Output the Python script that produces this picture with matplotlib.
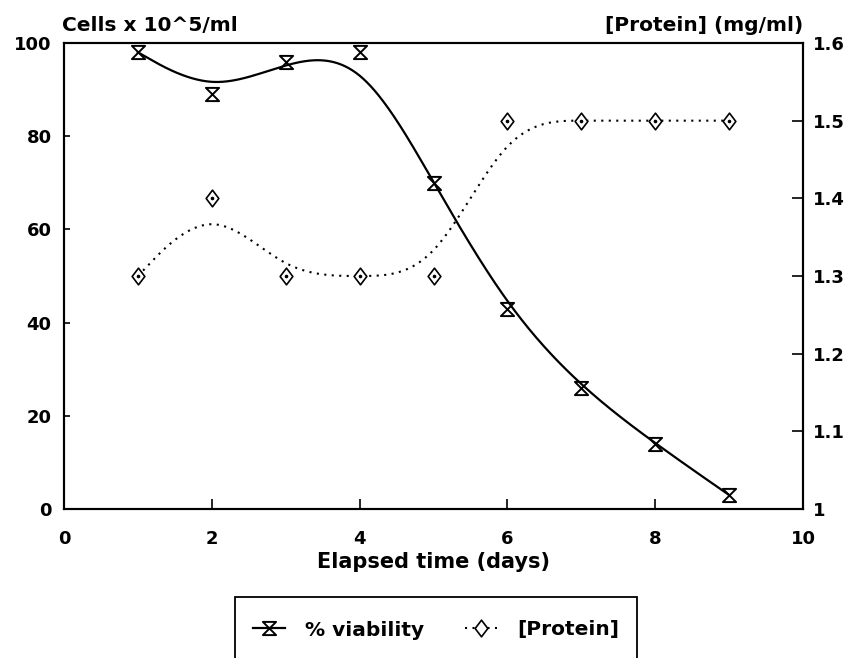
import numpy as np
import matplotlib
matplotlib.use("Agg")
import matplotlib.pyplot as plt
from matplotlib.path import Path
from matplotlib.lines import Line2D
from matplotlib.patches import Rectangle

# === Daten ===
days = [1, 2, 3, 4, 5, 6, 7, 8, 9]
viability = [98, 89, 96, 98, 70, 43, 26, 14, 3]
protein = [1.3, 1.4, 1.3, 1.3, 1.3, 1.5, 1.5, 1.5, 1.5]

x_ticks = [0, 2, 4, 6, 8, 10]
left_ticks = [0, 20, 40, 60, 80, 100]
right_ticks = [1.0, 1.1, 1.2, 1.3, 1.4, 1.5, 1.6]
right_labels = ["1", "1.1", "1.2", "1.3", "1.4", "1.5", "1.6"]


def bspline(x, y, n_seg=60):
    # uniformer kubischer B-Spline, Datenpunkte = Kontrollpunkte,
    # Endpunkte dreifach -> Kurve beginnt/endet im ersten/letzten Punkt
    px = np.concatenate([[x[0]] * 2, x, [x[-1]] * 2]).astype(float)
    py = np.concatenate([[y[0]] * 2, y, [y[-1]] * 2]).astype(float)
    t = np.linspace(0, 1, n_seg)
    b0 = (1 - t) ** 3 / 6
    b1 = (3 * t**3 - 6 * t**2 + 4) / 6
    b2 = (-3 * t**3 + 3 * t**2 + 3 * t + 1) / 6
    b3 = t**3 / 6
    xs, ys = [], []
    for i in range(len(px) - 3):
        xs.append(b0 * px[i] + b1 * px[i + 1] + b2 * px[i + 2] + b3 * px[i + 3])
        ys.append(b0 * py[i] + b1 * py[i + 1] + b2 * py[i + 2] + b3 * py[i + 3])
    return np.concatenate(xs), np.concatenate(ys)


# Marker-Pfade
hourglass = Path([(-1, 1), (1, 1), (-1, -1), (1, -1), (-1, 1)],
                 [Path.MOVETO, Path.LINETO, Path.LINETO, Path.LINETO, Path.CLOSEPOLY])
diamond = Path([(0, 1), (0.76, 0), (0, -1), (-0.76, 0), (0, 1)],
               [Path.MOVETO, Path.LINETO, Path.LINETO, Path.LINETO, Path.CLOSEPOLY])

plt.rcParams["font.family"] = "DejaVu Sans"
plt.rcParams["font.weight"] = "bold"
plt.rcParams["font.size"] = 13

fig = plt.figure(figsize=(8.52, 6.58), dpi=100)
ax = fig.add_axes([64 / 852, 1 - 509 / 658, 739 / 852, 466 / 658])
ax2 = ax.twinx()

xs, ys = bspline(days, viability)
ax.plot(xs, ys, color="black", lw=1.6)
ax.plot(days, viability, ls="none", marker=hourglass, ms=9.5, fillstyle="none",
        mec="black", mew=1.4)

xs2, ys2 = bspline(days, protein)
ax2.plot(xs2, ys2, color="black", lw=1.5, ls=(0, (1, 2.6)))
ax2.plot(days, protein, ls="none", marker=diamond, ms=12, mfc="white",
         mec="black", mew=1.2)
ax2.plot(days, protein, ls="none", marker="o", ms=1.6, color="black")

ax.set_xlim(0, 10)
ax.set_ylim(0, 100)
ax2.set_ylim(1.0, 1.6)
ax.set_xticks(x_ticks)
ax.set_yticks(left_ticks)
ax2.set_yticks(right_ticks)
ax2.set_yticklabels(right_labels)

ax.tick_params(axis="x", direction="in", length=7, width=1.2, pad=15, labelsize=13)
ax.tick_params(axis="y", direction="in", length=4, width=1.2, pad=9, labelsize=13)
ax2.tick_params(axis="y", direction="in", length=8, width=1.2, pad=7, labelsize=13)
for a in (ax, ax2):
    for s in a.spines.values():
        s.set_linewidth(1.5)

ax.set_xlabel("Elapsed time (days)", fontsize=15, fontweight="bold", labelpad=3)
fig.text(62 / 852, 1 - 31 / 658, "Cells x 10^5/ml", ha="left", va="baseline",
         fontsize=14.5, fontweight="bold")
fig.text(803 / 852, 1 - 31 / 658, "[Protein] (mg/ml)", ha="right", va="baseline",
         fontsize=14.5, fontweight="bold")

# Legende
fig.patches.append(Rectangle((235 / 852, -0.1), 402 / 852, 0.1 + 61 / 658,
                             transform=fig.transFigure, fill=False,
                             edgecolor="black", lw=1.3, clip_on=False))
h1 = Line2D([], [], color="black", lw=1.6, marker=hourglass, ms=9.5,
            fillstyle="none", mec="black", mew=1.4)
h2 = Line2D([], [], color="black", lw=1.5, ls=(0, (1, 2.6)), marker=diamond,
            ms=12, mfc="white", mec="black", mew=1.2)
fig.legend([h1, h2], ["% viability", "[Protein]"], loc="center",
           bbox_to_anchor=(436 / 852, 1 - 630 / 658), ncol=2, frameon=False,
           fontsize=14.5, handlelength=1.6, columnspacing=2.0, handletextpad=1.0)

fig.savefig("out.png", dpi=100)
